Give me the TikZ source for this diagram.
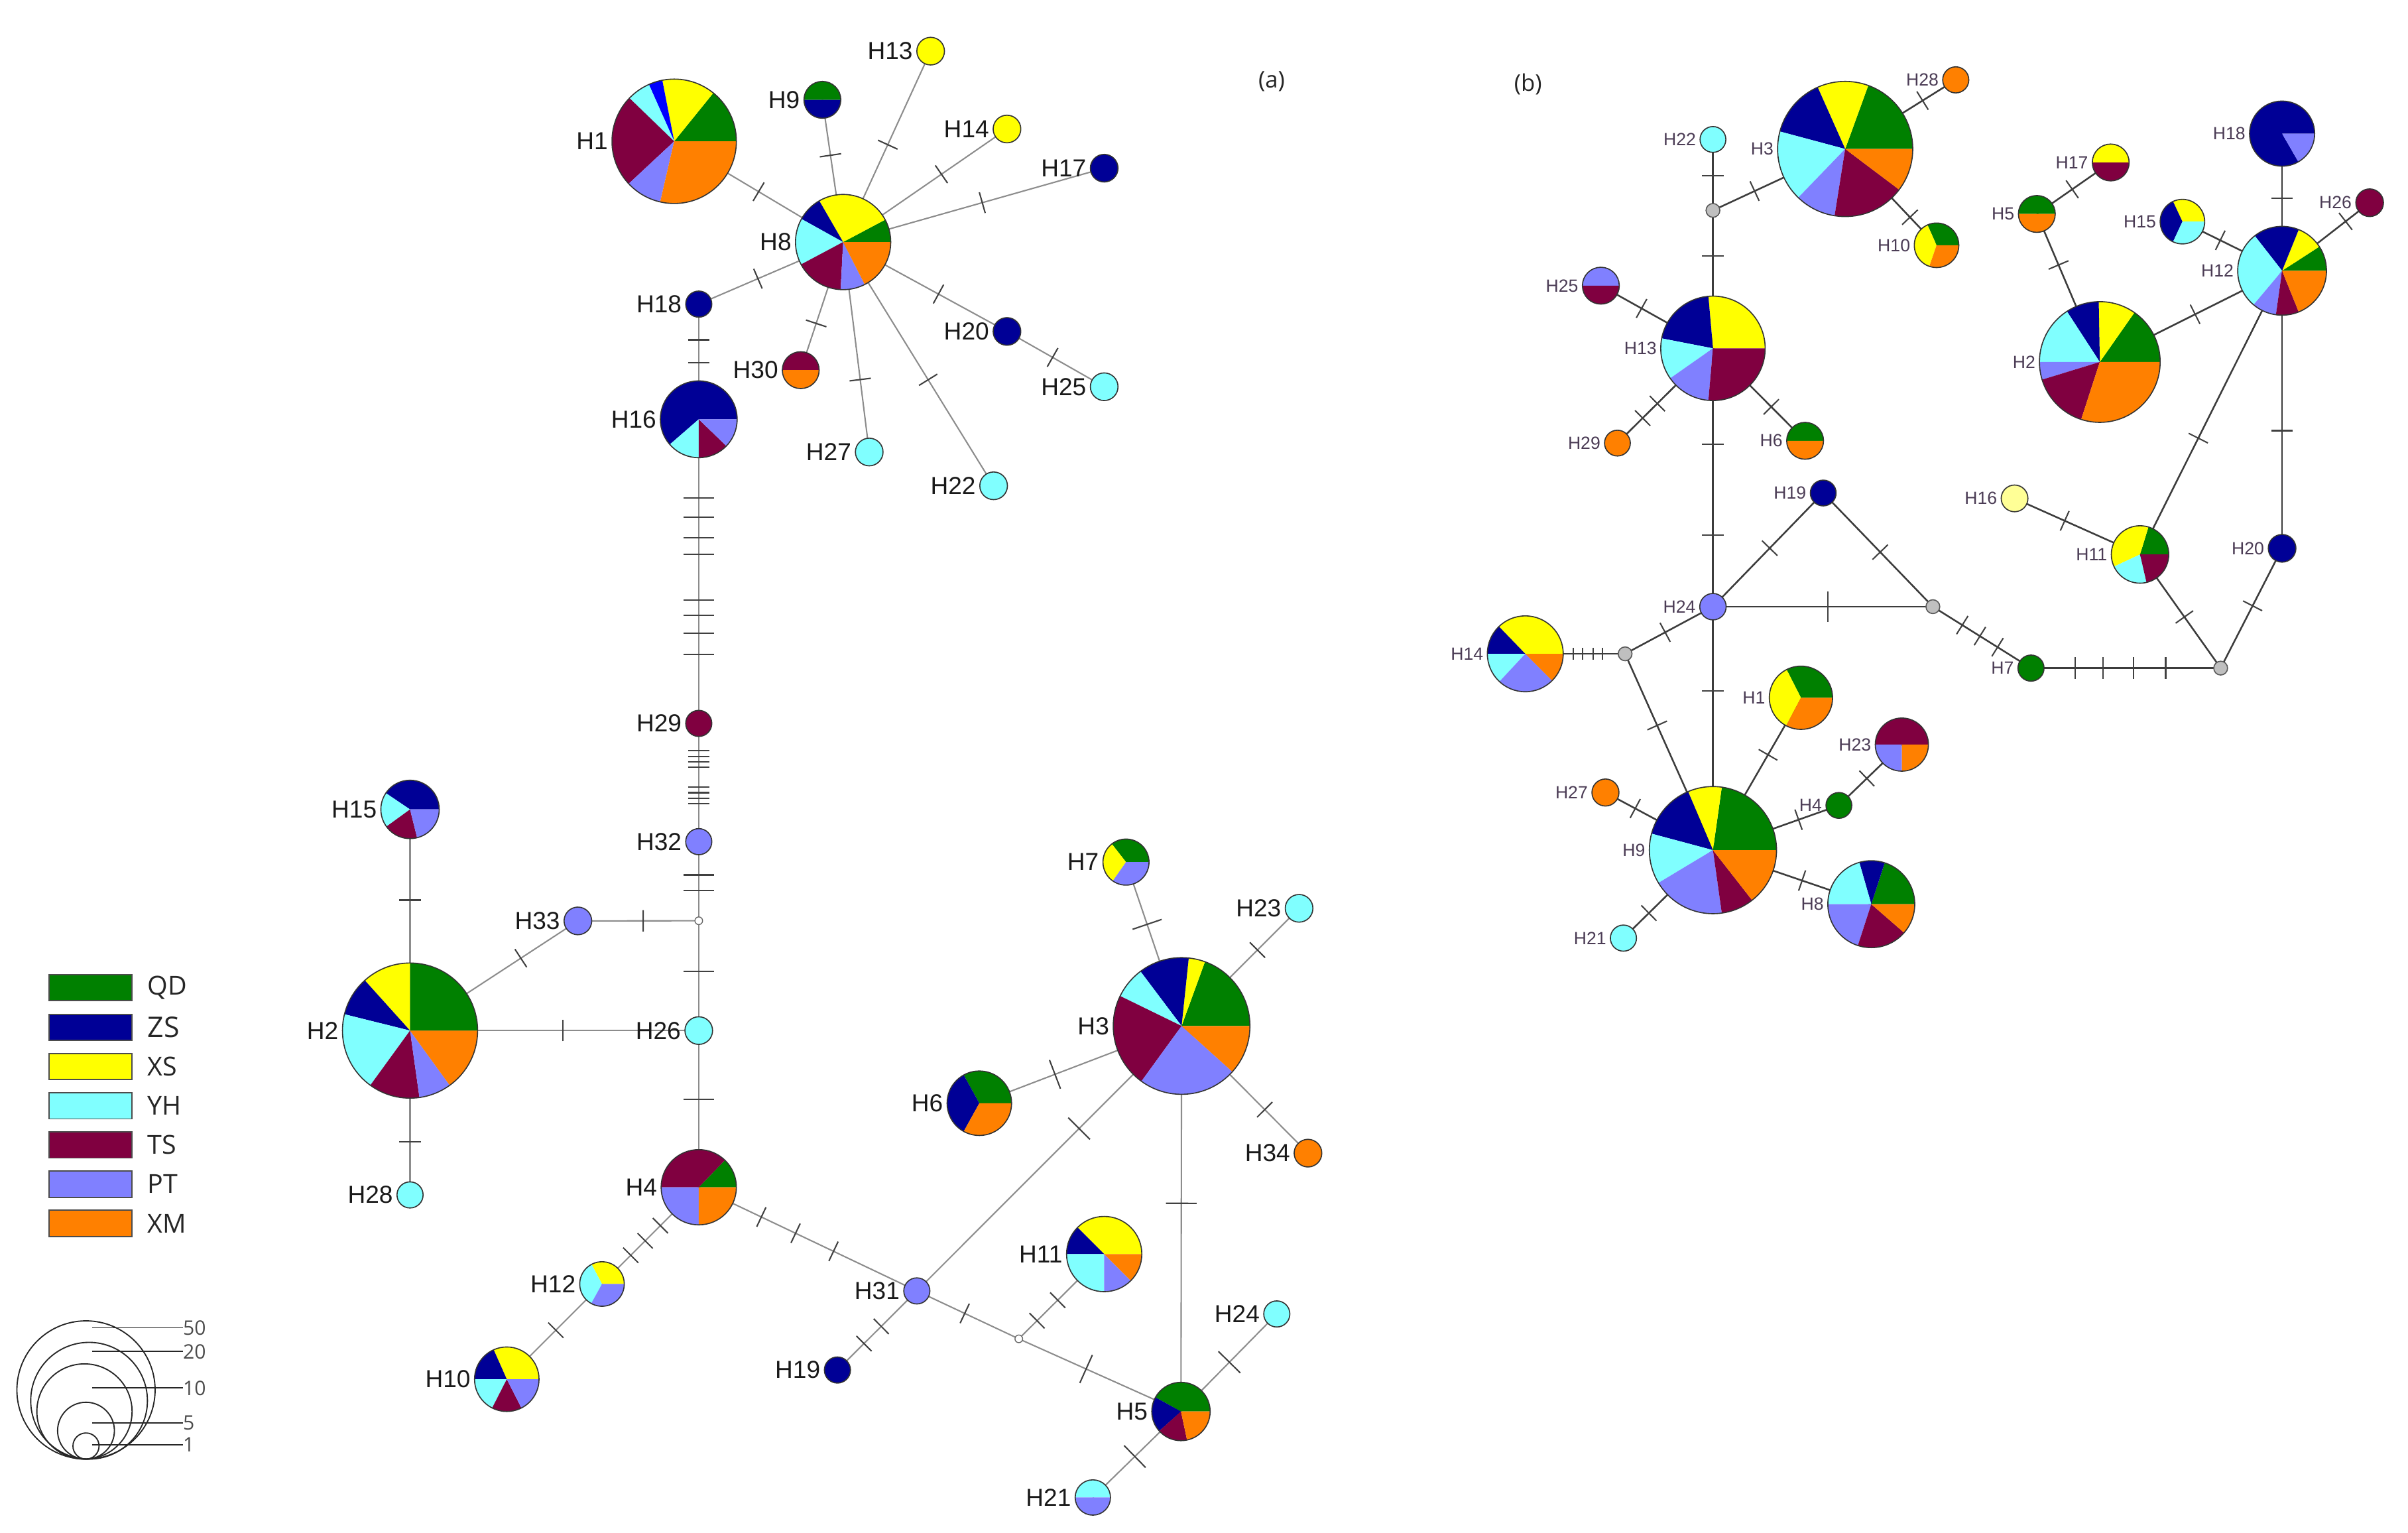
\documentclass[tikz,border=0pt]{standalone}
\usepackage{fontspec}
\setmainfont{Liberation Sans}
\newfontfamily\osans{Open Sans}
\usetikzlibrary{decorations.markings}
\pgfdeclarelayer{bg}
\pgfsetlayers{bg,main}
\definecolor{qd}{RGB}{0,128,0}
\definecolor{zs}{RGB}{0,0,150}
\definecolor{xs}{RGB}{255,255,0}
\definecolor{yh}{RGB}{128,255,255}
\definecolor{ts}{RGB}{128,0,64}
\definecolor{pt}{RGB}{128,128,255}
\definecolor{xm}{RGB}{255,128,0}
\definecolor{bl}{RGB}{0,0,255}
\definecolor{lyel}{RGB}{255,255,150}
\definecolor{lblbcol}{RGB}{75,60,85}
\definecolor{edgeA}{RGB}{140,140,140}
\definecolor{edgeB}{RGB}{60,60,60}
\newcommand\hap[7]{%
  \node[hnode, minimum size={2*#6pt}, label={[#1]180:#3}] (#2) at (#4,-#5) {};
  \foreach \sA/\sB/\sC in {#7}{%
    \fill[fill=\sC] (#4,-#5) -- ++(\sA:#6) arc[start angle=\sA, end angle=\sB, radius=#6] -- cycle;}
  \draw[pieline] (#4,-#5) circle[radius=#6];
}
\begin{document}
\begin{tikzpicture}[x=1pt,y=1pt,
  hnode/.style={circle, inner sep=0pt, outer sep=0pt},
  pieline/.style={draw=black!80, line width=0.7pt},
  label distance=1.5pt,
  lbla/.style={font=\fontsize{16}{18}\selectfont, text=black!90, inner sep=1pt},
  lblb/.style={font=\fontsize{11.5}{13}\selectfont, text=lblbcol, inner sep=1pt},
  ea/.style={draw=edgeA, line width=0.9pt},
  eb/.style={draw=edgeB, line width=1.1pt},
  tickline/.style={draw=black!75, line width=0.9pt},
  tk/.style={postaction={decorate,decoration={markings,mark=at position #1 with {\draw[tickline] (0,-7) -- (0,7);}}}},
  tkl/.style={postaction={decorate,decoration={markings,mark=at position #1 with {\draw[tickline] (0,-10) -- (0,10);}}}},
  tks/.style={postaction={decorate,decoration={markings,mark=at position #1 with {\draw[tickline] (0,-4) -- (0,4);}}}},
  meda/.style={circle, draw=black!60, fill=white, line width=0.6pt, minimum size=5pt, inner sep=0pt},
  medb/.style={circle, draw=black!65, fill=black!25, line width=0.7pt, minimum size=9pt, inner sep=0pt},
  legbox/.style={draw=black!70, line width=0.8pt, minimum width=54pt, minimum height=17pt, inner sep=0pt},
  legtxt/.style={font=\osans\fontsize{17}{19}\selectfont, text=black!85, anchor=west, inner sep=0pt},
  sztxt/.style={font=\osans\fontsize{13}{15}\selectfont, text=black!70, anchor=west, inner sep=0pt},
  szc/.style={draw=black!85, line width=0.8pt},
  panel/.style={font=\osans\fontsize{15}{17}\selectfont, text=black!85}
]
\useasboundingbox (0,0) rectangle (1568,-998);

% ---------------- panel (a) ----------------
\hap{lbla}{a1}{H1}{439}{92}{40.5}{0/51/qd,51/101/xs,101/114/bl,114/136/yh,136/223/ts,223/257/pt,257/360/xm}
\hap{lbla}{a9}{H9}{535.5}{65}{12}{0/180/qd,180/360/zs}
\hap{lbla}{a13}{H13}{606}{33.3}{9}{0/360/xs}
\hap{lbla}{a14}{H14}{655.7}{84}{9}{0/360/xs}
\hap{lbla}{a17}{H17}{719}{109.5}{9}{0/360/zs}
\hap{lbla}{a8}{H8}{549}{157.6}{31}{0/28/qd,28/120/xs,120/151/zs,151/208/yh,208/267/ts,267/297/pt,297/360/xm}
\hap{lbla}{a18}{H18}{455}{198}{8.5}{0/360/zs}
\hap{lbla}{a20}{H20}{655.7}{215.8}{9}{0/360/zs}
\hap{lbla}{a25}{H25}{719}{251.8}{9}{0/360/yh}
\hap{lbla}{a30}{H30}{521.4}{241}{12}{0/180/ts,180/360/xm}
\hap{lbla}{a27}{H27}{566}{294.3}{9}{0/360/yh}
\hap{lbla}{a22}{H22}{647}{316.3}{9}{0/360/yh}
\hap{lbla}{a16}{H16}{455}{273}{25}{0/221/zs,221/270/yh,270/316/ts,316/360/pt}
\hap{lbla}{a29}{H29}{455}{471}{8.5}{0/360/ts}
\hap{lbla}{a32}{H32}{455}{548}{8.5}{0/360/pt}
\node[meda] (ma) at (455,-599.5) {};
\hap{lbla}{a33}{H33}{376.3}{599.6}{9}{0/360/pt}
\hap{lbla}{a15}{H15}{267}{527}{19}{0/146/zs,146/216/yh,216/284/ts,284/360/pt}
\hap{lbla}{a2}{H2}{267}{671}{44}{0/90/qd,90/132/xs,132/166/zs,166/234/yh,234/278/ts,278/306/pt,306/360/xm}
\hap{lbla}{a28}{H28}{267}{778}{8.5}{0/360/yh}
\hap{lbla}{a26}{H26}{455}{671}{9}{0/360/yh}
\hap{lbla}{a4}{H4}{455}{773}{24.5}{0/46/qd,46/180/ts,180/270/pt,270/360/xm}
\hap{lbla}{a12}{H12}{392}{836}{14.5}{0/118/xs,118/241/yh,241/360/pt}
\hap{lbla}{a10}{H10}{330}{898}{21}{0/114/xs,114/180/zs,180/243/yh,243/297/ts,297/360/pt}
\hap{lbla}{a31}{H31}{597}{840.5}{8.5}{0/360/pt}
\hap{lbla}{a19}{H19}{545.3}{892}{8.5}{0/360/zs}
\node[meda] (mb) at (663.4,-871.7) {};
\hap{lbla}{a11}{H11}{719}{816.5}{24.5}{0/135/xs,135/180/zs,180/270/yh,270/315/pt,315/360/xm}
\hap{lbla}{a5}{H5}{769}{919}{19}{0/151/qd,151/222/zs,222/282/ts,282/360/xm}
\hap{lbla}{a21}{H21}{711.6}{975}{11.5}{0/180/yh,180/360/pt}
\hap{lbla}{a24}{H24}{831.4}{855.5}{8.5}{0/360/yh}
\hap{lbla}{a6}{H6}{637.7}{718.3}{21}{0/119/qd,119/241/zs,241/360/xm}
\hap{lbla}{a3}{H3}{769.4}{668}{44.5}{0/70/qd,70/84/xs,84/127/zs,127/154/yh,154/234/ts,234/318/pt,318/360/xm}
\hap{lbla}{a7}{H7}{733.2}{561.3}{15}{0/128/qd,128/235/xs,235/360/pt}
\hap{lbla}{a23}{H23}{845.9}{591.4}{9}{0/360/yh}
\hap{lbla}{a34}{H34}{851.7}{750.8}{9}{0/360/xm}
\node[panel] (pa) at (828,-53) {(a)};

% ---------------- panel (b) ----------------
\hap{lblb}{b3}{H3}{1201.5}{97}{44}{0/70/qd,70/114/xs,114/165/zs,165/226/yh,226/261/pt,261/323/ts,323/360/xm}
\hap{lblb}{b28}{H28}{1273.5}{52}{8.5}{0/360/xm}
\hap{lblb}{b22}{H22}{1115.4}{90.8}{8.4}{0/360/yh}
\node[medb] (m1) at (1115.4,-137) {};
\hap{lblb}{b10}{H10}{1261}{159.7}{14.5}{0/114/qd,114/251/xs,251/360/xm}
\hap{lblb}{b13}{H13}{1115.4}{226.8}{34}{0/95/xs,95/169/zs,169/215/yh,215/265/pt,265/360/ts}
\hap{lblb}{b25}{H25}{1042.4}{186}{12}{0/180/pt,180/360/ts}
\hap{lblb}{b29}{H29}{1053.2}{288.5}{8.4}{0/360/xm}
\hap{lblb}{b6}{H6}{1175.4}{287}{12}{0/180/qd,180/360/xm}
\hap{lblb}{b19}{H19}{1187.2}{321}{8.4}{0/360/zs}
\hap{lblb}{b24}{H24}{1115.4}{395}{8.6}{0/360/pt}
\node[medb] (m2) at (1058.2,-425.7) {};
\node[medb] (m3) at (1258.6,-395) {};
\hap{lblb}{b14}{H14}{993.2}{425.7}{24.7}{0/134/xs,134/180/zs,180/227/yh,227/315/pt,315/360/xm}
\hap{lblb}{b7}{H7}{1322.5}{435}{8.5}{0/360/qd}
\node[medb] (m4) at (1446,-435) {};
\hap{lblb}{b1}{H1}{1172.7}{454.3}{20.6}{0/117/qd,117/242/xs,242/360/xm}
\hap{lblb}{b23}{H23}{1238.4}{484.8}{17.3}{0/180/ts,180/270/pt,270/360/xm}
\hap{lblb}{b4}{H4}{1197.4}{524.4}{8.4}{0/360/qd}
\hap{lblb}{b27}{H27}{1045.4}{516}{8.8}{0/360/xm}
\hap{lblb}{b9}{H9}{1115.4}{553.5}{41.4}{0/82/qd,82/113/xs,113/165/zs,165/211/yh,211/278/pt,278/308/ts,308/360/xm}
\hap{lblb}{b8}{H8}{1218.5}{588.7}{28.3}{0/72/qd,72/106/zs,106/180/yh,180/252/pt,252/319/ts,319/360/xm}
\hap{lblb}{b21}{H21}{1057.1}{610.8}{8.5}{0/360/yh}
\hap{lblb}{b5}{H5}{1326.3}{139.3}{12}{0/180/qd,180/360/xm}
\hap{lblb}{b17}{H17}{1374.4}{105.8}{12}{0/180/xs,180/360/ts}
\hap{lblb}{b2}{H2}{1367.3}{235.7}{39.3}{0/55/qd,55/91/xs,91/123/zs,123/180/yh,180/197/pt,197/252/ts,252/360/xm}
\hap{lblb}{b15}{H15}{1421.1}{144.3}{14.5}{0/115/xs,115/245/zs,245/360/yh}
\hap{lblb}{b12}{H12}{1486}{176.3}{28.9}{0/33/qd,33/68/xs,68/128/zs,128/230/yh,230/262/pt,262/292/ts,292/360/xm}
\hap{lblb}{b18}{H18}{1486}{87}{21.2}{0/300/zs,300/360/pt}
\hap{lblb}{b26}{H26}{1543}{132}{9}{0/360/ts}
\hap{lblb}{b16}{H16}{1311.8}{324.5}{8.7}{0/360/lyel}
\hap{lblb}{b11}{H11}{1393.5}{361}{18.7}{0/73/qd,73/205/xs,205/283/yh,283/360/ts}
\hap{lblb}{b20}{H20}{1486}{357}{9}{0/360/zs}
\node[panel] (pb) at (995,-55) {(b)};

% ---------------- edges ----------------
\begin{pgfonlayer}{bg}
\draw[ea, tk=0.5] (a1.center) -- (a8.center);
\draw[ea, tk=0.39] (a9.center) -- (a8.center);
\draw[ea, tk=0.49] (a13.center) -- (a8.center);
\draw[ea, tk=0.40] (a14.center) -- (a8.center);
\draw[ea, tk=0.467] (a17.center) -- (a8.center);
\draw[ea, tk=0.41] (a18.center) -- (a8.center);
\draw[ea, tk=0.418] (a20.center) -- (a8.center);
\draw[ea, tk=0.47] (a20.center) -- (a25.center);
\draw[ea, tk=0.365] (a30.center) -- (a8.center);
\draw[ea, tk=0.345] (a27.center) -- (a8.center);
\draw[ea, tk=0.435] (a22.center) -- (a8.center);
\draw[ea, tk=0.31, tk=0.51] (a18.center) -- (a16.center);
\draw[ea, tkl=0.259, tkl=0.321, tkl=0.39, tkl=0.444, tkl=0.594, tkl=0.645, tkl=0.704, tkl=0.774] (a16.center) -- (a29.center);
\draw[ea, tk=0.232, tk=0.279, tk=0.325, tk=0.371, tk=0.54, tk=0.586, tk=0.632, tk=0.678] (a29.center) -- (a32.center);
\draw[ea, tkl=0.42, tkl=0.62] (a32.center) -- (ma.center);
\draw[ea, tk=0.46] (ma.center) -- (a33.center);
\draw[ea, tk=0.34] (a33.center) -- (a2.center);
\draw[ea, tkl=0.46] (ma.center) -- (a26.center);
\draw[ea, tk=0.53] (a2.center) -- (a26.center);
\draw[ea, tk=0.41] (a15.center) -- (a2.center);
\draw[ea, tk=0.675] (a2.center) -- (a28.center);
\draw[ea, tkl=0.44] (a26.center) -- (a4.center);
\draw[ea, tk=0.397, tk=0.554, tk=0.703] (a4.center) -- (a12.center);
\draw[ea, tk=0.485] (a12.center) -- (a10.center);
\draw[ea, tk=0.287, tk=0.444, tk=0.618] (a4.center) -- (a31.center);
\draw[ea, tk=0.449, tk=0.666] (a31.center) -- (a19.center);
\draw[ea, tkl=0.613] (a31.center) -- (a3.center);
\draw[ea, tk=0.47] (a31.center) -- (mb.center);
\draw[ea, tk=0.214, tk=0.457] (mb.center) -- (a11.center);
\draw[ea, tkl=0.415] (mb.center) -- (a5.center);
\draw[ea, tkl=0.46] (a3.center) -- (a5.center);
\draw[ea, tkl=0.62] (a3.center) -- (a7.center);
\draw[ea, tkl=0.626] (a3.center) -- (a6.center);
\draw[ea, tk=0.647] (a3.center) -- (a23.center);
\draw[ea, tk=0.66] (a3.center) -- (a34.center);
\draw[ea, tkl=0.506] (a5.center) -- (a24.center);
\draw[ea, tkl=0.524] (a5.center) -- (a21.center);
% (b)
\draw[eb, tk=0.51] (b22.center) -- (m1.center);
\draw[eb, tk=0.315] (m1.center) -- (b3.center);
\draw[eb, tk=0.33] (m1.center) -- (b13.center);
\draw[eb, tk=0.7] (b3.center) -- (b28.center);
\draw[eb, tk=0.71] (b3.center) -- (b10.center);
\draw[eb, tk=0.637] (b13.center) -- (b25.center);
\draw[eb, tk=0.584, tk=0.738] (b13.center) -- (b29.center);
\draw[eb, tk=0.633] (b13.center) -- (b6.center);
\draw[eb, tk=0.371, tk=0.723] (b13.center) -- (b24.center);
\draw[eb, tk=0.515] (b24.center) -- (b19.center);
\draw[eb, tk=0.52] (b19.center) -- (m3.center);
\draw[eb, tkl=0.523] (b24.center) -- (m3.center);
\draw[eb, tk=0.545] (b24.center) -- (m2.center);
\draw[eb, tks=0.228, tks=0.322, tks=0.425, tks=0.519] (m2.center) -- (b14.center);
\draw[eb, tk=0.365] (m2.center) -- (b9.center);
\draw[eb, tk=0.346] (b24.center) -- (b9.center);
\draw[eb, tk=0.627] (b9.center) -- (b1.center);
\draw[eb, tk=0.68] (b9.center) -- (b4.center);
\draw[eb, tk=0.444] (b4.center) -- (b23.center);
\draw[eb, tk=0.723] (b9.center) -- (b27.center);
\draw[eb, tk=0.563] (b9.center) -- (b8.center);
\draw[eb, tk=0.717] (b9.center) -- (b21.center);
\draw[eb, tk=0.3, tk=0.48, tk=0.66] (m3.center) -- (b7.center);
\draw[eb, tk=0.234, tk=0.379, tk=0.54, tk=0.71] (b7.center) -- (m4.center);
\draw[eb, tk=0.45] (m4.center) -- (b11.center);
\draw[eb, tk=0.52] (m4.center) -- (b20.center);
\draw[eb, tk=0.424] (b20.center) -- (b12.center);
\draw[eb, tk=0.41] (b11.center) -- (b12.center);
\draw[eb, tk=0.4] (b16.center) -- (b11.center);
\draw[eb, tk=0.523] (b2.center) -- (b12.center);
\draw[eb, tk=0.656] (b2.center) -- (b5.center);
\draw[eb, tk=0.48] (b5.center) -- (b17.center);
\draw[eb, tk=0.38] (b15.center) -- (b12.center);
\draw[eb, tk=0.47] (b18.center) -- (b12.center);
\draw[eb, tk=0.726] (b12.center) -- (b26.center);
\end{pgfonlayer}

% ---------------- legend ----------------
\node[legbox, fill=qd] (lq) at (59,-643) {};
\node[legtxt] (lqt) at (96,-643) {QD};
\node[legbox, fill=zs] (lz) at (59,-669) {};
\node[legtxt, font=\osans\fontsize{18.5}{20}\selectfont] (lzt) at (96,-669) {ZS};
\node[legbox, fill=xs] (lx) at (59,-694.5) {};
\node[legtxt] (lxt) at (96,-694.5) {XS};
\node[legbox, fill=yh] (ly) at (59,-720) {};
\node[legtxt] (lyt) at (96,-720) {YH};
\node[legbox, fill=ts] (lt) at (59,-745.5) {};
\node[legtxt] (ltt) at (96,-745.5) {TS};
\node[legbox, fill=pt] (lp) at (59,-771) {};
\node[legtxt] (lpt) at (96,-771) {PT};
\node[legbox, fill=xm] (lm) at (59,-796.5) {};
\node[legtxt] (lmt) at (96,-796.5) {XM};

\draw[szc] (56,-905) circle[radius=45];
\draw[szc] (58,-912) circle[radius=38];
\draw[szc] (55,-919) circle[radius=31];
\draw[szc] (56,-931.5) circle[radius=18.5];
\draw[szc] (56,-941.5) circle[radius=8.5];
\node[sztxt] (s50) at (119,-864.5) {50};
\node[sztxt] (s20) at (119,-880) {20};
\node[sztxt] (s10) at (119,-903.7) {10};
\node[sztxt] (s5) at (119,-926.4) {5};
\node[sztxt] (s1) at (119,-940.7) {1};
\coordinate (c50) at (60,-864.5);
\coordinate (c20) at (60,-880);
\coordinate (c10) at (60,-903.7);
\coordinate (c5) at (60,-926.4);
\coordinate (c1) at (60,-940.7);
\draw[szc] (c50) -- (s50.west);
\draw[szc] (c20) -- (s20.west);
\draw[szc] (c10) -- (s10.west);
\draw[szc] (c5) -- (s5.west);
\draw[szc] (c1) -- (s1.west);
\end{tikzpicture}
\end{document}
